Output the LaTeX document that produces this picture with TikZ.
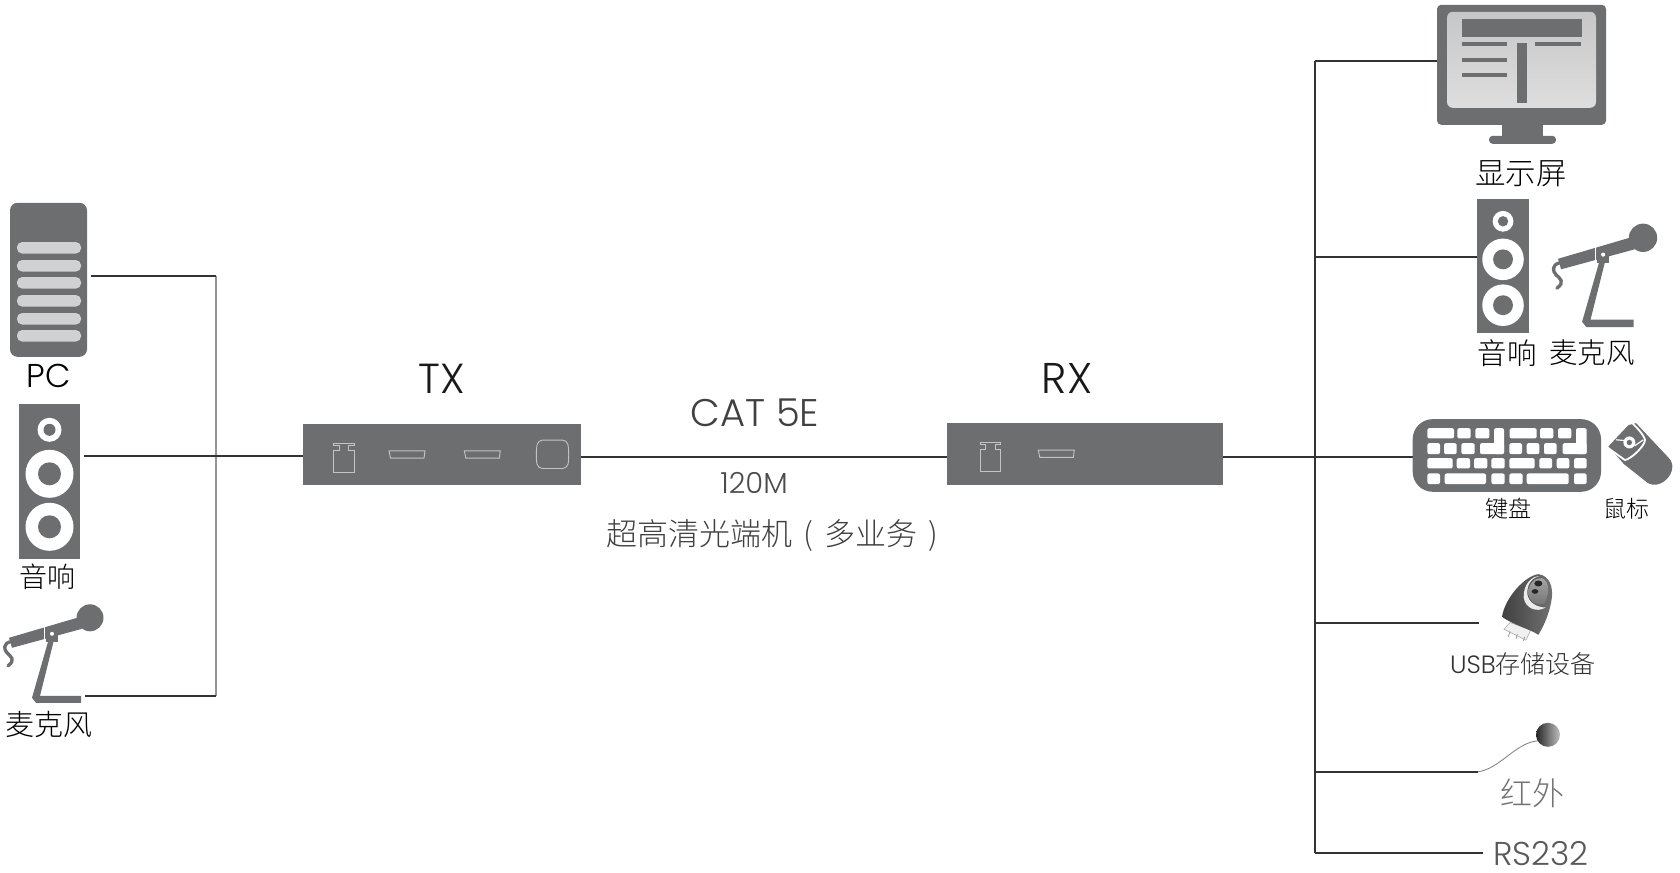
\documentclass[tikz,border=0pt]{standalone}
\usepackage{fontspec}
\setmainfont{Noto Sans CJK SC}[UprightFont={* Light},BoldFont={*}]
\newfontfamily\latl{Poppins}[UprightFont={* Light},BoldFont={*}]
\usetikzlibrary{calc}
\definecolor{dev}{HTML}{6D6E70}
\definecolor{wire}{HTML}{333333}
\definecolor{barc}{HTML}{D0D1D3}
\definecolor{port}{HTML}{C4C4C4}
\newcommand\pxf[1]{\fontsize{\fpeval{#1*0.6}pt}{\fpeval{#1*0.72}pt}\selectfont}
\tikzset{
  px/.style={x=0.6pt,y=-0.6pt},
  wireline/.style={draw=wire,line width=1.15pt},
  graywire/.style={draw=black!42,line width=0.9pt},
  portline/.style={draw=port,line width=0.55pt,fill=none},
  txt/.style={inner sep=0pt,outer sep=0pt,anchor=center},
  boxnode/.style={fill=dev,draw=none,inner sep=0pt,outer sep=0pt,anchor=north west},
}
\newcommand\speaker[3]{%
  \begin{scope}[shift={(#1,#2)},scale=#3]
    \fill[dev] (-30.5,0) rectangle (30.5,155);
    \fill[white] (0,26) circle[radius=12];
    \fill[dev] (0,26) circle[radius=6];
    \fill[white] (0,70) circle[radius=24];
    \fill[dev] (0,70) circle[radius=11.5];
    \fill[white] (0,123) circle[radius=24];
    \fill[dev] (0,123) circle[radius=11.5];
  \end{scope}}
\newcommand\mic[3]{%
  \begin{scope}[shift={(#1,#2)},scale=#3]
    \fill[dev] (0,0) circle[radius=13.5];
    \fill[dev] (-81,20) -- (-13,0) -- (-8,11) -- (-78,30) -- cycle;
    \fill[dev] (-44,11) rectangle (-32,24);
    \draw[white,line width=0.6pt] (-45.3,8) -- (-45.3,24);
    \fill[white] (-38,16) circle[radius=2];
    \fill[dev] (-42,24) -- (-36.5,24) -- (-50,78) -- (-9,78) -- (-9,85) -- (-54,85) -- (-58,80) -- cycle;
    \draw[dev,line width=2pt,line cap=round] (-80,24) .. controls (-87,26) and (-86,32) .. (-83,35) .. controls (-79,39) and (-74,42) .. (-82,48);
  \end{scope}}
\newcommand\pwr[2]{%
  \begin{scope}[shift={(#1,#2)},x=0.2pt,y=-0.2pt]
    \draw[portline] (0,0) -- (62,0) -- (62,8) -- (45,8) -- (45,23) -- (62,23) -- (62,88) -- (0,88) -- (0,23) -- (17,23) -- (17,8) -- (0,8) -- cycle;
  \end{scope}}
\newcommand\hdmi[2]{%
  \begin{scope}[shift={(#1,#2)}]
    \draw[portline] (0,0) -- (36,0) -- (35,7.3) -- (1.5,7.3) -- cycle;
  \end{scope}}
\newcommand\kk[4]{\fill[white,rounded corners=1.2pt] (#1,#2) rectangle (#3,#4);}
\begin{document}
\begin{tikzpicture}[px]
\useasboundingbox (0,-0.8) rectangle (1680,871.2);
% named ports
\coordinate (pcOut) at (91,275);
\coordinate (spkOut) at (84,455);
\coordinate (micOut) at (85,695);
\coordinate (joinTop) at (216,275);
\coordinate (joinBot) at (216,695);
\coordinate (txIn) at (304,455);
\coordinate (txOut) at (581,456);
\coordinate (rxIn) at (947,456);
\coordinate (rxOut) at (1223,456);
\coordinate (busTop) at (1315,60);
\coordinate (busBot) at (1315,852);
\coordinate (monIn) at (1443,60);
\coordinate (busSpk) at (1315,256);
\coordinate (spkIn) at (1480,256);
\coordinate (kbIn) at (1413,456);
\coordinate (busUsb) at (1315,622);
\coordinate (usbIn) at (1479,622);
\coordinate (busIr) at (1315,771);
\coordinate (irIn) at (1478,771);
\coordinate (irEnd) at (1538,740);
\coordinate (rsIn) at (1483,852);

% wires
\draw[graywire] (joinTop) -- (joinBot);
\draw[wireline] (pcOut) -- (joinTop);
\draw[wireline] (spkOut) -- (txIn);
\draw[wireline] (micOut) -- (joinBot);
\draw[wireline] (txOut) -- (rxIn);
\draw[wireline] (rxOut) -- (kbIn);
\draw[wireline] (busTop) -- (busBot);
\draw[wireline] (busTop) -- (monIn);
\draw[wireline] (busSpk) -- (spkIn);
\draw[wireline] (busUsb) -- (usbIn);
\draw[wireline] (busIr) -- (irIn);
\draw[wireline] (busBot) -- (rsIn);
\draw[black!50,line width=0.5pt] (irIn) .. controls (1500,768) and (1515,742) .. (irEnd);

% PC
\fill[dev,rounded corners=4.5pt] (10,202) rectangle (87,356);
\foreach \yy in {247,265,282,300,318,335}
  \fill[barc,rounded corners=3pt] (17,\yy-5.7) rectangle (81,\yy+5.7);
\node[txt,font=\latl\pxf{33},text=black] (pcLabel) at (49,375) {PC};

% left speaker and mic
\speaker{49.5}{403}{1}
\node[txt,font=\pxf{28}] (lSpkLabel) at (47,576) {音响};
\mic{90}{617}{1}
\node[txt,font=\pxf{29}] (lMicLabel) at (49,724) {麦克风};

% TX
\node[boxnode,minimum width=166.4pt,minimum height=36.6pt] (txBox) at (303.3,423) {};
\pwr{333.3}{442.3}
\hdmi{389}{450}
\hdmi{464.3}{450}
\draw[portline,rounded corners=2.5pt] (538.3,439.3) .. controls (536,448) and (536,460) .. (538.3,467.7) -- (566.7,467.7) .. controls (569,460) and (569,448) .. (566.7,439.3) -- cycle;
\node[txt,font=\latl\pxf{42},text=black!90] (txLabel) at (442,378) {TX};

% RX
\node[boxnode,minimum width=165.4pt,minimum height=37.2pt] (rxBox) at (947.3,422.3) {};
\pwr{980}{441.3}
\hdmi{1038.3}{449.3}
\node[txt,font=\latl\pxf{43},text=black!90] (rxLabel) at (1067,378) {RX};

% centre text
\node[txt,font=\latl\pxf{38.5},text=black!75] (catLabel) at (755,412) {CAT 5E};
\node[txt,font=\latl\pxf{29},text=black!70] (mLabel) at (754,482) {120M};
\node[txt,font=\pxf{31},text=black!75] (titleLabel) at (772,534.5) {超高清光端机\hspace{.36em}(\hspace{.36em}多业务\hspace{.36em})};

% monitor
\fill[dev,rounded corners=2.5pt] (1437,4) rectangle (1606,124);
\shade[top color=black!22,bottom color=black!13,rounded corners=3.5pt] (1447,11) rectangle (1596,107);
\fill[dev] (1462,18) rectangle (1582,36);
\foreach \yy in {43,59,74} \fill[dev] (1462,\yy-2) rectangle (1507,\yy+2);
\fill[dev] (1535,41) rectangle (1581,45);
\fill[dev] (1517,42) rectangle (1527,102);
\fill[dev] (1502,124) rectangle (1543,137);
\fill[dev,rounded corners=2.2pt] (1489,135) rectangle (1556,143);
\node[txt,font=\pxf{30.5}] (monLabel) at (1521,173) {显示屏};

% right speaker and mic
\speaker{1503}{198}{0.865}
\mic{1643}{237}{1.05}
\node[txt,font=\pxf{29.5}] (rSpkLabel) at (1507,352) {音响};
\node[txt,font=\pxf{28.5}] (rMicLabel) at (1592,352) {麦克风};

% keyboard (coordinates of a 3x enlargement)
\begin{scope}[shift={(1400,400)},x=0.2pt,y=-0.2pt]
  \fill[dev,rounded corners=12pt] (38,55) rectangle (603,273);
  \kk{82}{82}{162}{113}\kk{172}{82}{212}{113}\kk{226}{82}{268}{113}
  \kk{329}{82}{410}{113}\kk{420}{82}{460}{113}\kk{474}{82}{514}{113}
  \kk{282}{82}{312}{160}\kk{240}{127}{312}{160}
  \kk{528}{82}{560}{160}\kk{488}{127}{560}{160}
  \kk{82}{127}{120}{160}\kk{132}{127}{170}{160}\kk{184}{127}{224}{160}
  \kk{328}{127}{366}{160}\kk{380}{127}{418}{160}\kk{432}{127}{470}{160}
  \kk{82}{172}{158}{203}\kk{170}{172}{210}{203}\kk{222}{172}{262}{203}\kk{274}{172}{314}{203}
  \kk{328}{172}{404}{203}\kk{418}{172}{456}{203}\kk{470}{172}{508}{203}\kk{522}{172}{560}{203}
  \kk{82}{218}{120}{250}\kk{134}{218}{258}{250}\kk{274}{218}{314}{250}
  \kk{328}{218}{368}{250}\kk{380}{218}{506}{250}\kk{522}{218}{560}{250}
\end{scope}
% mouse
\begin{scope}[shift={(1600,415)},x=0.2pt,y=-0.2pt]
  \fill[dev] (25,92) -- (85,28) -- (108,22) -- (205,125) .. controls (245,165) and (175,235) .. (135,195) -- (72,145) -- cycle;
  \draw[white,line width=1.1pt] (26,98) -- (75,133) .. controls (95,128) and (135,90) .. (135,72) .. controls (130,55) and (110,35) .. (95,20);
  \fill[white] (88,80) circle[radius=18];
  \fill[dev] (88,80) circle[radius=8];
  \draw[white,line width=0.7pt] (48,72) -- (72,74) (104,90) -- (130,72);
\end{scope}
\node[txt,font=\pxf{23}] (kbLabel) at (1508,508) {键盘};
\node[txt,font=\pxf{23}] (mouseLabel) at (1626,508) {鼠标};

% usb device
\begin{scope}[shift={(1430,560)},x=0.2pt,y=-0.2pt]
  \draw[black!30,line width=0.4pt,fill=black!6] (222,205) -- (240,185) -- (302,208) -- (288,238) -- cycle;
  \draw[black!55,line width=0.3pt] (240,212) -- (235,228) (262,220) -- (258,234) (284,228) -- (280,240);
  \shade[left color=black!75,right color=black!55] (216,168) .. controls (225,110) and (285,45) .. (325,40) .. controls (360,45) and (370,80) .. (365,115) .. controls (360,150) and (345,190) .. (325,222) .. controls (300,205) and (245,190) .. (216,168) -- cycle;
  \shade[top color=black!35,bottom color=black!55] (295,95) .. controls (295,70) and (315,50) .. (335,52) .. controls (360,60) and (360,100) .. (342,130) .. controls (315,135) and (295,120) .. (295,95) -- cycle;
  \fill[white!92!black] (281,110) .. controls (280,70) and (305,46) .. (328,46) .. controls (302,52) and (290,75) .. (292,100) .. controls (295,125) and (320,140) .. (347,140) .. controls (320,157) and (285,142) .. (281,110) -- cycle;
  \fill[black!85] (325,68) circle[x radius=12,y radius=9];
  \fill[black!85] (315,92) circle[x radius=10,y radius=7];
\end{scope}
\node[txt,font=\pxf{25},text=black!80] (usbLabel) at (1523,663) {{\latl USB}存储设备};

% infrared
\shade[left color=black!85,right color=black!25] (1548,734) circle[radius=12];
\node[txt,font=\pxf{32},text=black!55] (irLabel) at (1532,792) {红外};
\node[txt,font=\latl\pxf{33},text=black!65] (rsLabel) at (1541,853) {RS232};
\end{tikzpicture}
\end{document}
